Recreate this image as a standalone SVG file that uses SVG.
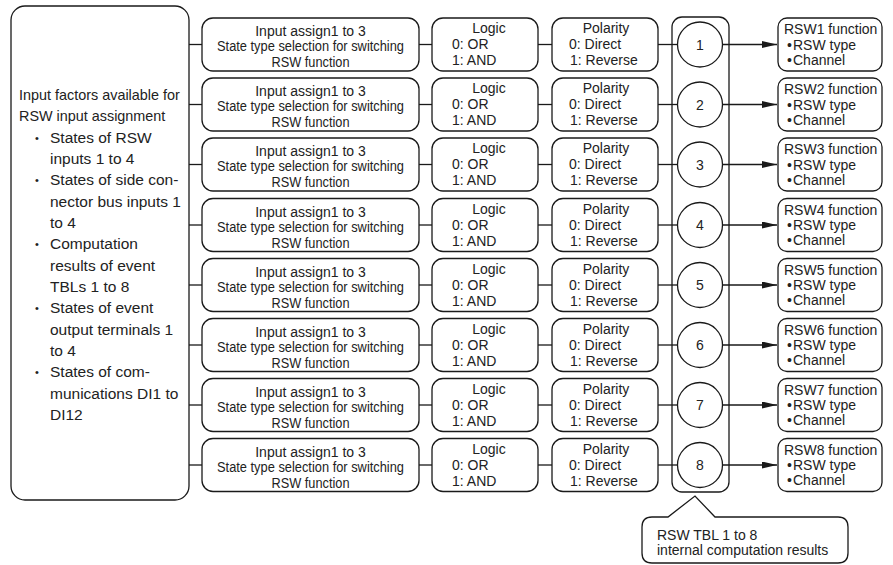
<svg xmlns="http://www.w3.org/2000/svg" width="893" height="565" viewBox="0 0 893 565">
<style>
  rect, circle, .shape { fill: #fff; stroke: #1a1a1a; stroke-width: 1.3; }
  text { font-family: "Liberation Sans", Arial, sans-serif; font-size: 14px; fill: #222; }
  .mid { text-anchor: middle; }
  .lt { font-size: 14.4px; }
  .li { font-size: 15.5px; }
  .bu { font-size: 11px; }
  .conn line { stroke: #1a1a1a; stroke-width: 1.3; }
</style>
<defs>
  <marker id="arr" markerUnits="userSpaceOnUse" markerWidth="16" markerHeight="8" refX="15" refY="3.5" orient="auto">
    <path d="M0,0 L15,3.5 L0,7 Z" fill="#1a1a1a"/>
  </marker>
  <g id="inputNode">
    <rect x="202" y="18" width="217" height="53" rx="11"/>
    <text x="310.5" y="36" class="mid">Input assign1 to 3</text>
    <text x="310.5" y="51" class="mid" textLength="187" lengthAdjust="spacingAndGlyphs">State type selection for switching</text>
    <text x="310.5" y="67" class="mid" textLength="78" lengthAdjust="spacingAndGlyphs">RSW function</text>
  </g>
  <g id="logicNode">
    <rect x="432" y="18" width="106" height="53" rx="11"/>
    <text x="489" y="33" class="mid">Logic</text>
    <text x="452" y="49">0: OR</text>
    <text x="452" y="65">1: AND</text>
  </g>
  <g id="polarityNode">
    <rect x="552" y="18" width="106" height="53" rx="11"/>
    <text x="606" y="33" class="mid">Polarity</text>
    <text x="569" y="49">0: Direct</text>
    <text x="570" y="65">1: Reverse</text>
  </g>
</defs>

<g id="factors">
  <rect x="11" y="6" width="178" height="494" rx="14"/>
  <text class="lt" x="19" y="100">Input factors available for</text>
  <text class="lt" x="19" y="121.3">RSW input assignment</text>
  <text class="bu" x="35" y="141.5">•</text><text class="li" x="50" y="142.7">States of RSW</text>
  <text class="li" x="50" y="164">inputs 1 to 4</text>
  <text class="bu" x="35" y="184.1">•</text><text class="li" x="50" y="185.3">States of side con-</text>
  <text class="li" x="50" y="206.7">nector bus inputs 1</text>
  <text class="li" x="50" y="228">to 4</text>
  <text class="bu" x="35" y="248.1">•</text><text class="li" x="50" y="249.3">Computation</text>
  <text class="li" x="50" y="270.7">results of event</text>
  <text class="li" x="50" y="292">TBLs 1 to 8</text>
  <text class="bu" x="35" y="312.1">•</text><text class="li" x="50" y="313.3">States of event</text>
  <text class="li" x="50" y="334.7">output terminals 1</text>
  <text class="li" x="50" y="356">to 4</text>
  <text class="bu" x="35" y="376.1">•</text><text class="li" x="50" y="377.3">States of com-</text>
  <text class="li" x="50" y="398.7">munications DI1 to</text>
  <text class="li" x="50" y="420">DI12</text>
</g>

<g id="tbl-group">
  <rect x="672" y="17" width="57" height="475" rx="10"/>
</g>

<g id="input1"><use href="#inputNode"/></g>
<g id="input2" transform="translate(0,60)"><use href="#inputNode"/></g>
<g id="input3" transform="translate(0,120)"><use href="#inputNode"/></g>
<g id="input4" transform="translate(0,180.5)"><use href="#inputNode"/></g>
<g id="input5" transform="translate(0,240.5)"><use href="#inputNode"/></g>
<g id="input6" transform="translate(0,300.5)"><use href="#inputNode"/></g>
<g id="input7" transform="translate(0,360.5)"><use href="#inputNode"/></g>
<g id="input8" transform="translate(0,420.5)"><use href="#inputNode"/></g>

<g id="logic1"><use href="#logicNode"/></g>
<g id="logic2" transform="translate(0,60)"><use href="#logicNode"/></g>
<g id="logic3" transform="translate(0,120)"><use href="#logicNode"/></g>
<g id="logic4" transform="translate(0,180.5)"><use href="#logicNode"/></g>
<g id="logic5" transform="translate(0,240.5)"><use href="#logicNode"/></g>
<g id="logic6" transform="translate(0,300.5)"><use href="#logicNode"/></g>
<g id="logic7" transform="translate(0,360.5)"><use href="#logicNode"/></g>
<g id="logic8" transform="translate(0,420.5)"><use href="#logicNode"/></g>

<g id="polarity1"><use href="#polarityNode"/></g>
<g id="polarity2" transform="translate(0,60)"><use href="#polarityNode"/></g>
<g id="polarity3" transform="translate(0,120)"><use href="#polarityNode"/></g>
<g id="polarity4" transform="translate(0,180.5)"><use href="#polarityNode"/></g>
<g id="polarity5" transform="translate(0,240.5)"><use href="#polarityNode"/></g>
<g id="polarity6" transform="translate(0,300.5)"><use href="#polarityNode"/></g>
<g id="polarity7" transform="translate(0,360.5)"><use href="#polarityNode"/></g>
<g id="polarity8" transform="translate(0,420.5)"><use href="#polarityNode"/></g>

<g id="tbl1"><circle cx="700" cy="44.5" r="22.5"/><text x="700" y="49.5" class="mid">1</text></g>
<g id="tbl2"><circle cx="700" cy="104.5" r="22.5"/><text x="700" y="109.5" class="mid">2</text></g>
<g id="tbl3"><circle cx="700" cy="164.5" r="22.5"/><text x="700" y="169.5" class="mid">3</text></g>
<g id="tbl4"><circle cx="700" cy="225" r="22.5"/><text x="700" y="230" class="mid">4</text></g>
<g id="tbl5"><circle cx="700" cy="285" r="22.5"/><text x="700" y="290" class="mid">5</text></g>
<g id="tbl6"><circle cx="700" cy="345" r="22.5"/><text x="700" y="350" class="mid">6</text></g>
<g id="tbl7"><circle cx="700" cy="405" r="22.5"/><text x="700" y="410" class="mid">7</text></g>
<g id="tbl8"><circle cx="700" cy="465" r="22.5"/><text x="700" y="470" class="mid">8</text></g>

<g id="rsw1"><rect x="778" y="18" width="104" height="53" rx="9"/><text x="784" y="34">RSW1 function</text><text x="787" y="49.5">•<tspan x="793">RSW type</tspan></text><text x="787" y="64.5">•<tspan x="793">Channel</tspan></text></g>
<g id="rsw2" transform="translate(0,60)"><rect x="778" y="18" width="104" height="53" rx="9"/><text x="784" y="34">RSW2 function</text><text x="787" y="49.5">•<tspan x="793">RSW type</tspan></text><text x="787" y="64.5">•<tspan x="793">Channel</tspan></text></g>
<g id="rsw3" transform="translate(0,120)"><rect x="778" y="18" width="104" height="53" rx="9"/><text x="784" y="34">RSW3 function</text><text x="787" y="49.5">•<tspan x="793">RSW type</tspan></text><text x="787" y="64.5">•<tspan x="793">Channel</tspan></text></g>
<g id="rsw4" transform="translate(0,180.5)"><rect x="778" y="18" width="104" height="53" rx="9"/><text x="784" y="34">RSW4 function</text><text x="787" y="49.5">•<tspan x="793">RSW type</tspan></text><text x="787" y="64.5">•<tspan x="793">Channel</tspan></text></g>
<g id="rsw5" transform="translate(0,240.5)"><rect x="778" y="18" width="104" height="53" rx="9"/><text x="784" y="34">RSW5 function</text><text x="787" y="49.5">•<tspan x="793">RSW type</tspan></text><text x="787" y="64.5">•<tspan x="793">Channel</tspan></text></g>
<g id="rsw6" transform="translate(0,300.5)"><rect x="778" y="18" width="104" height="53" rx="9"/><text x="784" y="34">RSW6 function</text><text x="787" y="49.5">•<tspan x="793">RSW type</tspan></text><text x="787" y="64.5">•<tspan x="793">Channel</tspan></text></g>
<g id="rsw7" transform="translate(0,360.5)"><rect x="778" y="18" width="104" height="53" rx="9"/><text x="784" y="34">RSW7 function</text><text x="787" y="49.5">•<tspan x="793">RSW type</tspan></text><text x="787" y="64.5">•<tspan x="793">Channel</tspan></text></g>
<g id="rsw8" transform="translate(0,420.5)"><rect x="778" y="18" width="104" height="53" rx="9"/><text x="784" y="34">RSW8 function</text><text x="787" y="49.5">•<tspan x="793">RSW type</tspan></text><text x="787" y="64.5">•<tspan x="793">Channel</tspan></text></g>

<g id="callout">
  <path class="shape" d="M652,517 L668,517 L695,496 L715,517 L838,517 Q848,517 848,527 L848,553 Q848,563 838,563 L652,563 Q642,563 642,553 L642,527 Q642,517 652,517 Z"/>
  <text x="657" y="540">RSW TBL 1 to 8</text>
  <text x="657" y="555">internal computation results</text>
</g>

<g id="connectors" class="conn">
  <g>
    <line x1="189" y1="44.5" x2="202" y2="44.5"/><line x1="419" y1="44.5" x2="432" y2="44.5"/><line x1="538" y1="44.5" x2="552" y2="44.5"/><line x1="658" y1="44.5" x2="677.5" y2="44.5"/><line x1="722.5" y1="44.5" x2="777" y2="44.5" marker-end="url(#arr)"/>
  </g>
  <g transform="translate(0,60)">
    <line x1="189" y1="44.5" x2="202" y2="44.5"/><line x1="419" y1="44.5" x2="432" y2="44.5"/><line x1="538" y1="44.5" x2="552" y2="44.5"/><line x1="658" y1="44.5" x2="677.5" y2="44.5"/><line x1="722.5" y1="44.5" x2="777" y2="44.5" marker-end="url(#arr)"/>
  </g>
  <g transform="translate(0,120)">
    <line x1="189" y1="44.5" x2="202" y2="44.5"/><line x1="419" y1="44.5" x2="432" y2="44.5"/><line x1="538" y1="44.5" x2="552" y2="44.5"/><line x1="658" y1="44.5" x2="677.5" y2="44.5"/><line x1="722.5" y1="44.5" x2="777" y2="44.5" marker-end="url(#arr)"/>
  </g>
  <g transform="translate(0,180.5)">
    <line x1="189" y1="44.5" x2="202" y2="44.5"/><line x1="419" y1="44.5" x2="432" y2="44.5"/><line x1="538" y1="44.5" x2="552" y2="44.5"/><line x1="658" y1="44.5" x2="677.5" y2="44.5"/><line x1="722.5" y1="44.5" x2="777" y2="44.5" marker-end="url(#arr)"/>
  </g>
  <g transform="translate(0,240.5)">
    <line x1="189" y1="44.5" x2="202" y2="44.5"/><line x1="419" y1="44.5" x2="432" y2="44.5"/><line x1="538" y1="44.5" x2="552" y2="44.5"/><line x1="658" y1="44.5" x2="677.5" y2="44.5"/><line x1="722.5" y1="44.5" x2="777" y2="44.5" marker-end="url(#arr)"/>
  </g>
  <g transform="translate(0,300.5)">
    <line x1="189" y1="44.5" x2="202" y2="44.5"/><line x1="419" y1="44.5" x2="432" y2="44.5"/><line x1="538" y1="44.5" x2="552" y2="44.5"/><line x1="658" y1="44.5" x2="677.5" y2="44.5"/><line x1="722.5" y1="44.5" x2="777" y2="44.5" marker-end="url(#arr)"/>
  </g>
  <g transform="translate(0,360.5)">
    <line x1="189" y1="44.5" x2="202" y2="44.5"/><line x1="419" y1="44.5" x2="432" y2="44.5"/><line x1="538" y1="44.5" x2="552" y2="44.5"/><line x1="658" y1="44.5" x2="677.5" y2="44.5"/><line x1="722.5" y1="44.5" x2="777" y2="44.5" marker-end="url(#arr)"/>
  </g>
  <g transform="translate(0,420.5)">
    <line x1="189" y1="44.5" x2="202" y2="44.5"/><line x1="419" y1="44.5" x2="432" y2="44.5"/><line x1="538" y1="44.5" x2="552" y2="44.5"/><line x1="658" y1="44.5" x2="677.5" y2="44.5"/><line x1="722.5" y1="44.5" x2="777" y2="44.5" marker-end="url(#arr)"/>
  </g>
</g>
</svg>
